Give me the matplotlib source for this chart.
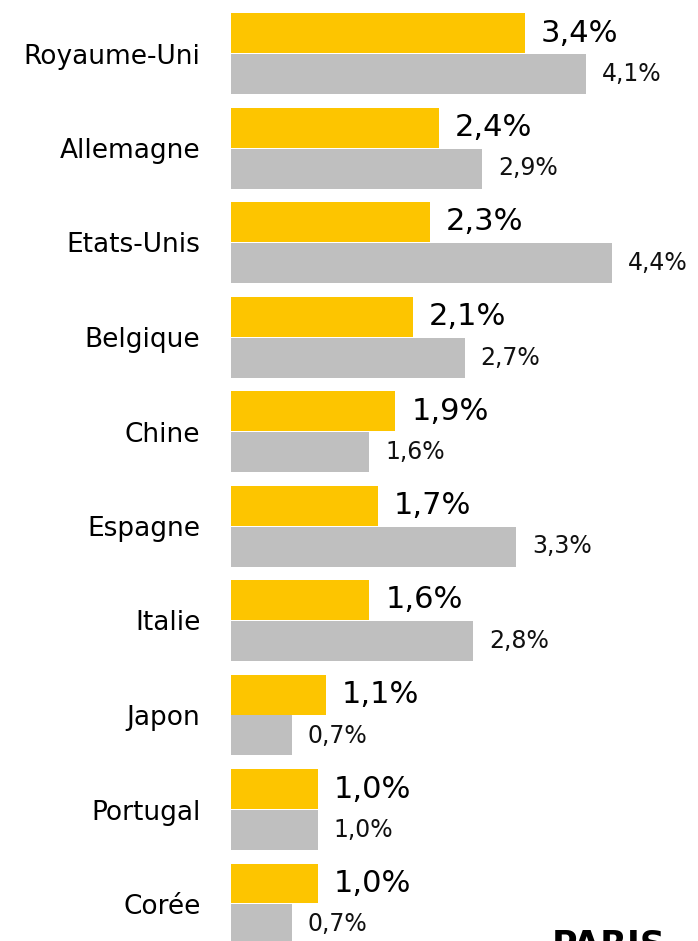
import numpy as np
import matplotlib.pyplot as plt

countries = ["Royaume-Uni", "Allemagne", "Etats-Unis", "Belgique", "Chine",
             "Espagne", "Italie", "Japon", "Portugal", "Corée"]
yellow_vals = [3.4, 2.4, 2.3, 2.1, 1.9, 1.7, 1.6, 1.1, 1.0, 1.0]
gray_vals = [4.1, 2.9, 4.4, 2.7, 1.6, 3.3, 2.8, 0.7, 1.0, 0.7]

W, H = 698, 941
fig = plt.figure(figsize=(W / 100, H / 100), dpi=100)
x0 = 231
ax = fig.add_axes([x0 / W, 0, (W - x0) / W, 1])

px_unit = 86.5
grp = 94.5
c0 = 53.5
ax.set_xlim(0, (W - x0) / px_unit)
ax.set_ylim((H - c0) / grp, -c0 / grp)

y = np.arange(len(countries))
h = 40 / grp
off = 20.5 / grp
ax.barh(y - off, yellow_vals, height=h, color="#FDC500")
ax.barh(y + off, gray_vals, height=h, color="#BFBFBF")

fmt = lambda v: f"{v:.1f}".replace(".", ",") + "%"
for i, (a, b) in enumerate(zip(yellow_vals, gray_vals)):
    ax.annotate(fmt(a), (a, i - off), xytext=(16, 0), textcoords="offset pixels",
                va="center", ha="left", fontsize=22, color="black")
    ax.annotate(fmt(b), (b, i + off), xytext=(16, 0), textcoords="offset pixels",
                va="center", ha="left", fontsize=17, color="#111111")

ax.set_yticks(y)
ax.set_yticklabels(countries, fontsize=19)
ax.tick_params(axis="y", length=0, pad=22)
ax.set_xticks([])
for s in ax.spines.values():
    s.set_visible(False)

fig.text(552 / W, 1 - 928 / H, "PARIS", fontsize=25, fontweight="bold",
         ha="left", va="top")

fig.savefig("out.png", dpi=100)
